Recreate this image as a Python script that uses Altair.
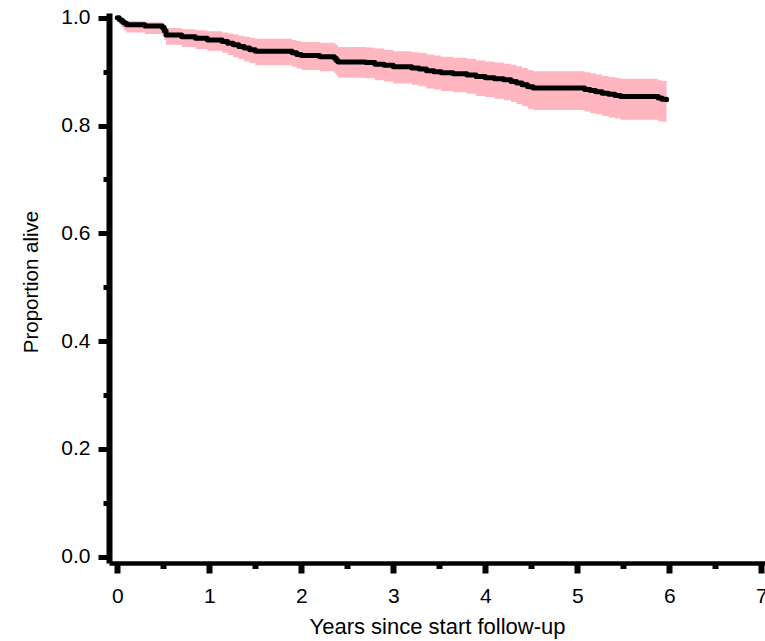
import altair as alt
import pandas as pd

years = [0.00, 0.02, 0.04, 0.06, 0.08, 0.10, 0.30, 0.49, 0.51, 0.53, 0.70, 0.85,
         0.98, 1.14, 1.20, 1.26, 1.32, 1.38, 1.44, 1.50, 1.90, 1.95, 2.00, 2.20,
         2.36, 2.38, 2.40, 2.70, 2.80, 2.90, 3.00, 3.20, 3.28, 3.36, 3.44, 3.52,
         3.65, 3.80, 3.90, 4.00, 4.10, 4.20, 4.28, 4.34, 4.40, 4.46, 4.52, 5.08,
         5.14, 5.20, 5.27, 5.34, 5.41, 5.47, 5.88, 5.92, 5.97]
surv = [1.000, 0.997, 0.995, 0.992, 0.990, 0.987, 0.985, 0.982, 0.976, 0.968, 0.965, 0.962,
        0.959, 0.956, 0.953, 0.950, 0.947, 0.944, 0.941, 0.938, 0.935, 0.932, 0.930, 0.928,
        0.925, 0.921, 0.918, 0.917, 0.914, 0.912, 0.909, 0.907, 0.905, 0.902, 0.900, 0.898,
        0.896, 0.894, 0.891, 0.889, 0.887, 0.885, 0.882, 0.879, 0.876, 0.872, 0.870, 0.867,
        0.865, 0.863, 0.860, 0.858, 0.856, 0.854, 0.851, 0.849, 0.848]
upper = [1.000, 0.999, 0.998, 0.997, 0.996, 0.994, 0.992, 0.990, 0.986, 0.981, 0.979, 0.977,
         0.975, 0.973, 0.971, 0.969, 0.967, 0.965, 0.963, 0.961, 0.959, 0.957, 0.955, 0.954,
         0.952, 0.949, 0.946, 0.945, 0.943, 0.941, 0.938, 0.936, 0.935, 0.932, 0.930, 0.928,
         0.926, 0.924, 0.921, 0.919, 0.917, 0.915, 0.913, 0.910, 0.907, 0.903, 0.901, 0.899,
         0.897, 0.895, 0.892, 0.890, 0.889, 0.887, 0.884, 0.883, 0.882]
lower = [1.000, 0.988, 0.983, 0.979, 0.976, 0.973, 0.970, 0.966, 0.959, 0.950, 0.946, 0.942,
         0.939, 0.935, 0.931, 0.927, 0.923, 0.919, 0.916, 0.912, 0.909, 0.906, 0.903, 0.901,
         0.897, 0.893, 0.889, 0.888, 0.884, 0.882, 0.878, 0.876, 0.873, 0.869, 0.867, 0.864,
         0.862, 0.859, 0.855, 0.853, 0.850, 0.847, 0.844, 0.840, 0.836, 0.831, 0.829, 0.826,
         0.823, 0.821, 0.818, 0.815, 0.813, 0.811, 0.808, 0.807, 0.806]

x_major = [0, 1, 2, 3, 4, 5, 6, 7]
x_minor = [0.5, 1.5, 2.5, 3.5, 4.5, 5.5, 6.5]
y_major = [0.0, 0.2, 0.4, 0.6, 0.8, 1.0]
y_minor = [0.1, 0.3, 0.5, 0.7, 0.9]

df = pd.DataFrame({"t": years, "s": surv, "up": upper, "lo": lower})

FONT = "Liberation Sans"
xdom = [-0.09, 7.04]
ydom = [-0.012, 1.009]

band = alt.Chart(df).mark_area(interpolate="step-after", color="#ffb6c1", opacity=1).encode(
    x=alt.X("t:Q", scale=alt.Scale(domain=xdom, nice=False, zero=False),
            axis=alt.Axis(values=x_major, format="d", title="Years since start follow-up",
                          grid=False, domainColor="black", domainWidth=4.5,
                          tickColor="black", tickSize=10, tickWidth=6,
                          labelFont=FONT, labelFontSize=21, labelColor="black", labelPadding=12,
                          titleFont=FONT, titleFontSize=22, titleFontWeight="normal",
                          titleColor="black", titleY=70, titleBaseline="alphabetic")),
    y=alt.Y("lo:Q", scale=alt.Scale(domain=ydom, nice=False, zero=False),
            axis=alt.Axis(values=y_major, format=".1f", title="Proportion alive",
                          grid=False, domainColor="black", domainWidth=6,
                          tickColor="black", tickSize=11, tickWidth=5,
                          labelFont=FONT, labelFontSize=21, labelColor="black", labelPadding=8,
                          titleFont=FONT, titleFontSize=20.5, titleFontWeight="normal",
                          titleColor="black", titleX=-71.7, titleY=268.5,
                          titleBaseline="alphabetic")),
    y2="up:Q",
)

line = alt.Chart(df).mark_line(interpolate="step-after", color="black", strokeWidth=5,
                               strokeCap="round", strokeJoin="round").encode(
    x=alt.X("t:Q", scale=alt.Scale(domain=xdom, nice=False, zero=False),
            axis=alt.Axis(values=x_minor, orient="bottom", labels=False, domain=False, title=None,
                          grid=False, tickColor="black", tickSize=5.5, tickWidth=6)),
    y=alt.Y("s:Q", scale=alt.Scale(domain=ydom, nice=False, zero=False),
            axis=alt.Axis(values=y_minor, orient="left", labels=False, domain=False, title=None,
                          grid=False, tickColor="black", tickSize=6, tickWidth=5)),
)

chart = alt.layer(band, line).resolve_scale(
    x="independent", y="independent"
).resolve_axis(
    x="independent", y="independent"
).properties(
    width=656, height=550,
    autosize=alt.AutoSizeParams(type="none"),
    padding={"left": 109, "top": 13, "right": 0, "bottom": 78},
    background="white",
).configure_view(stroke=None)

chart.save("out.html", embed_options={"renderer": "svg", "actions": False})
